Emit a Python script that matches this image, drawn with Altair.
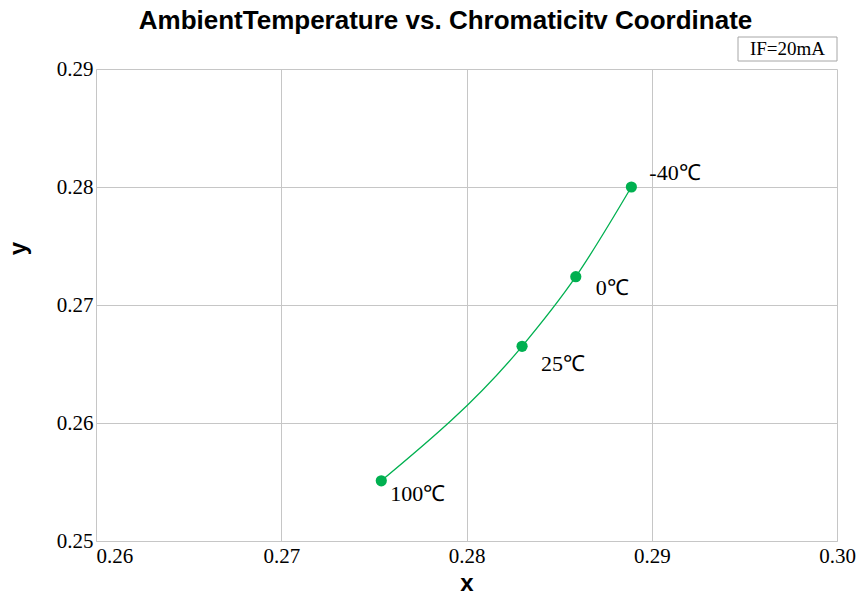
import altair as alt
import pandas as pd

# Chromaticity coordinates at each ambient temperature (IF = 20 mA)
temperatures = ["100℃", "25℃", "0℃", "-40℃"]
cie_x = [0.2754, 0.2830, 0.2859, 0.2889]
cie_y = [0.2551, 0.2665, 0.2724, 0.2800]

x_ticks = [0.26, 0.27, 0.28, 0.29, 0.30]
y_ticks = [0.25, 0.26, 0.27, 0.28, 0.29]

df = pd.DataFrame({"temp": temperatures, "x": cie_x, "y": cie_y})

GREEN = "#00b050"
GRID = "#c6c6c6"
SERIF = "Liberation Serif"
SANS = "Liberation Sans"

PLOT_W, PLOT_H = 741, 472

x_enc = alt.X(
    "x:Q",
    scale=alt.Scale(domain=[0.26, 0.30], nice=False, zero=False),
    axis=alt.Axis(
        title="x",
        values=x_ticks,
        format=".2f",
        grid=True,
        gridColor=GRID,
        domainColor=GRID,
        ticks=False,
        labelFont=SERIF,
        labelFontSize=21,
        labelColor="#000",
        labelPadding=4,
        labelAlign={"condition": {"test": "datum.value < 0.2601", "value": "left"}, "value": "center"},
        titleFont=SANS,
        titleFontSize=24,
        titleFontWeight="bold",
        titleColor="#000",
        titleBaseline="middle",
        titleY=42,
    ),
)
y_enc = alt.Y(
    "y:Q",
    scale=alt.Scale(domain=[0.25, 0.29], nice=False, zero=False),
    axis=alt.Axis(
        title="y",
        values=y_ticks,
        format=".2f",
        grid=True,
        gridColor=GRID,
        domainColor=GRID,
        ticks=False,
        labelFont=SERIF,
        labelFontSize=21,
        labelColor="#000",
        labelPadding=3,
        labelBaseline="middle",
        titleFont=SANS,
        titleFontSize=24,
        titleFontWeight="bold",
        titleColor="#000",
        titleAlign="center",
        titleBaseline="middle",
        titleX=-78,
        titleY=179,
    ),
)

base = alt.Chart(df)

curve = base.mark_line(color=GREEN, strokeWidth=1.3, interpolate="monotone").encode(
    x=x_enc, y=y_enc, order="x:Q"
)
dots = base.mark_circle(color=GREEN, opacity=1, size=125).encode(x="x:Q", y="y:Q")

# label placement around each point (dx, dy in pixels)
label_offsets = {"100℃": (9, 13), "25℃": (19, 18), "0℃": (20, 11), "-40℃": (18, -14)}
labels = [
    base.transform_filter(alt.datum.temp == t)
    .mark_text(font=SERIF, fontSize=22, color="#000", align="left", baseline="middle", dx=dx, dy=dy)
    .encode(x="x:Q", y="y:Q", text="temp:N")
    for t, (dx, dy) in label_offsets.items()
]

# condition note box above the plot's upper-right corner
note = pd.DataFrame({"note": ["IF=20mA"]})
note_box = alt.Chart(note).mark_rect(fill="white", stroke="#a6a6a6", strokeWidth=1).encode(
    x=alt.value(642), x2=alt.value(741), y=alt.value(-32), y2=alt.value(-8)
)
note_text = alt.Chart(note).mark_text(
    font=SERIF, fontSize=19, color="#000", align="center", baseline="middle"
).encode(x=alt.value(691.5), y=alt.value(-20), text="note:N")

chart = (
    alt.layer(curve, dots, *labels, note_box, note_text)
    .properties(
        width=PLOT_W,
        height=PLOT_H,
        title=alt.TitleParams(
            "AmbientTemperature vs. Chromaticitv Coordinate",
            font=SANS,
            fontSize=26,
            fontWeight="bold",
            color="#000",
            anchor="middle",
            baseline="alphabetic",
            dx=-21,
            dy=24,
            offset=6,
        ),
        autosize=alt.AutoSizeParams(type="none"),
        padding={"left": 96, "top": 69, "right": 19, "bottom": 54},
        background="white",
    )
    .configure_view(stroke=None)
)

chart.save("out.html", embed_options={"renderer": "svg", "actions": False})
